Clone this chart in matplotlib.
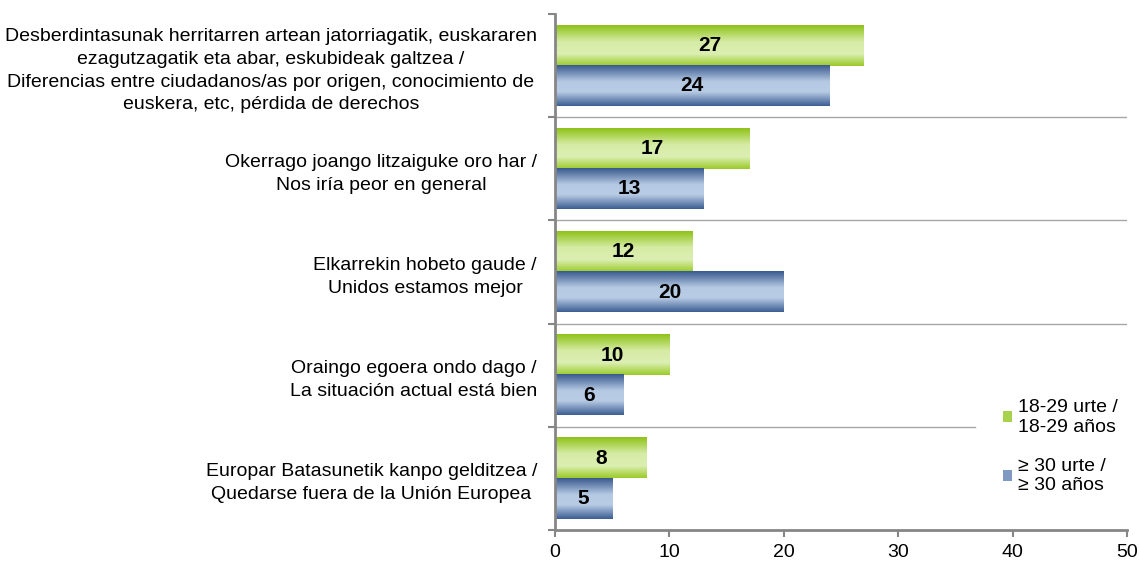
import numpy as np
import matplotlib.pyplot as plt
from matplotlib.colors import LinearSegmentedColormap
from matplotlib.patches import Patch

plt.rcParams['font.family'] = ['Liberation Sans', 'DejaVu Sans']

categories = [
    "Desberdintasunak herritarren artean jatorriagatik, euskararen\n"
    "ezagutzagatik eta abar, eskubideak galtzea /\n"
    "Diferencias entre ciudadanos/as por origen, conocimiento de\n"
    "euskera, etc, pérdida de derechos",
    "Okerrago joango litzaiguke oro har /\nNos iría peor en general",
    "Elkarrekin hobeto gaude /\nUnidos estamos mejor",
    "Oraingo egoera ondo dago /\nLa situación actual está bien",
    "Europar Batasunetik kanpo gelditzea /\nQuedarse fuera de la Unión Europea",
]
young = [27, 17, 12, 10, 8]
older = [24, 13, 20, 6, 5]
series_labels = ["18-29 urte /\n18-29 años", "≥ 30 urte /\n≥ 30 años"]

green_cmap = LinearSegmentedColormap.from_list(
    "g", [(0, "#8fc31a"), (0.4, "#d6eba5"), (0.7, "#dcefb3"), (1, "#9ccb2c")])
blue_cmap = LinearSegmentedColormap.from_list(
    "b", [(0, "#3b5b8e"), (0.4, "#b5c9e3"), (0.65, "#b9cce5"), (1, "#3e5f93")])

fig = plt.figure(figsize=(11.39, 5.63), dpi=100)
ax = fig.add_axes([0.4873, 0.0586, 0.5022, 0.9164])

h = 0.39
grad = np.linspace(0, 1, 64).reshape(-1, 1)
y = np.arange(len(categories))

for i in range(len(categories)):
    for val, top, cmap in [(young[i], y[i] - h, green_cmap), (older[i], y[i], blue_cmap)]:
        ax.imshow(grad, extent=[0, val, top + h, top], aspect='auto',
                  cmap=cmap, origin='upper', zorder=2, interpolation='bilinear')
        ax.text(val / 2, top + h / 2, str(val), ha='center', va='center',
                fontsize=15, fontweight='bold', zorder=3)

# separators between categories
for b in np.arange(0.5, len(categories) - 1, 1.0):
    xmax = 1.0 if b < len(categories) - 1.5 else 0.735
    ax.axhline(b, xmin=0, xmax=xmax, color='#a6a6a6', lw=1, zorder=1)

ax.set_xlim(0, 50)
ax.set_ylim(len(categories) - 0.5, -0.5)
ax.set_xticks(np.arange(0, 51, 10))
ax.set_yticks(np.arange(-0.5, len(categories), 1.0))
ax.set_yticklabels([])
ax.set_yticks(y, minor=True)
labels = ax.set_yticklabels(categories, minor=True, fontsize=14, ha='right',
                            linespacing=1.45)
for lab in labels:
    lab.set_multialignment('center')
ax.tick_params(axis='y', which='minor', length=0, pad=13)
ax.tick_params(axis='y', which='major', length=5, width=1.5, color='#868686')
ax.tick_params(axis='x', length=5, width=1.5, color='#868686', labelsize=14, pad=5)

for s in ['top', 'right']:
    ax.spines[s].set_visible(False)
for s in ['left', 'bottom']:
    ax.spines[s].set_color('#868686')
    ax.spines[s].set_linewidth(2)

handles = [Patch(facecolor='#a9d24c', edgecolor='none'),
           Patch(facecolor='#7f9ac2', edgecolor='none')]
ax.legend(handles, series_labels, loc='upper left', bbox_to_anchor=(0.752, 0.288),
          frameon=False, fontsize=14, handlelength=0.5, handleheight=0.5,
          handletextpad=0.3, labelspacing=1.15)

fig.savefig("out.png", dpi=100)
